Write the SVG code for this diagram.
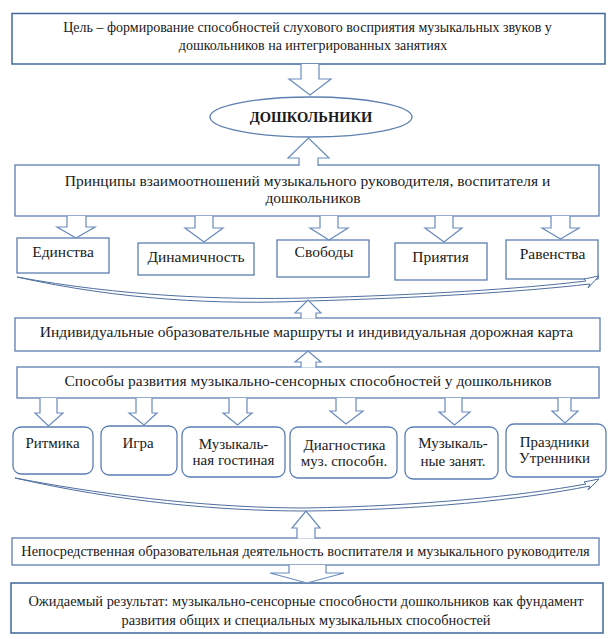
<svg xmlns="http://www.w3.org/2000/svg" width="613" height="639" viewBox="0 0 613 639" font-family="'Liberation Serif', 'Times New Roman', 'DejaVu Serif', serif">
<style>
.box{fill:#fff;stroke:#5d7fb0;stroke-width:1.3}
.top{fill:#fff;stroke:#41699a;stroke-width:1.5}
.rbox{fill:#fff;stroke:#5b7db3;stroke-width:1.3}
.arr{fill:#fff;stroke:#6a8bbd;stroke-width:1.2;stroke-linejoin:miter}
.brace{fill:#fff;stroke:#4e6f9f;stroke-width:1}
text{font-family:'Liberation Serif','Times New Roman','DejaVu Serif',serif;font-size:15px;fill:#1a1a1a;text-anchor:middle}
.s14{font-size:14px}
.s145{font-size:14.4px}
.s155{font-size:15.5px}
.b{font-weight:bold;font-size:14.5px}
</style>
<rect width="613" height="639" fill="#fff"/>
<g id="goal">
<rect class="top" x="12" y="13.5" width="593" height="50.5"/>
<text class="s14" x="307.5" y="32">Цель – формирование способностей слухового восприятия музыкальных звуков у</text>
<text class="s14" x="313" y="50">дошкольников на интегрированных занятиях</text>
</g>
<g id="children">
<ellipse class="box" cx="311" cy="117" rx="101" ry="20"/>
<text class="b" x="311" y="122">ДОШКОЛЬНИКИ</text>
</g>
<g id="principles">
<rect class="box" x="15" y="165" width="584" height="51"/>
<text class="s155" x="307.5" y="186">Принципы взаимоотношений музыкального руководителя, воспитателя и</text>
<text class="s155" x="313" y="203">дошкольников</text>
</g>
<g id="p1"><rect class="box" x="17" y="238" width="92" height="35"/><text class="s155" x="63" y="257">Единства</text></g>
<g id="p2"><rect class="box" x="138" y="243" width="116" height="32"/><text class="s155" x="196" y="262">Динамичность</text></g>
<g id="p3"><rect class="box" x="277" y="240" width="92" height="37"/><text class="s155" x="324" y="257">Свободы</text></g>
<g id="p4"><rect class="box" x="395" y="243" width="92" height="37"/><text class="s155" x="440.5" y="262">Приятия</text></g>
<g id="p5"><rect class="box" x="506" y="240" width="92" height="39"/><text class="s155" x="552.5" y="259">Равенства</text></g>
<g id="routes">
<rect class="box" x="15" y="318" width="585" height="33"/>
<text class="s155" x="306.5" y="337">Индивидуальные образовательные маршруты и индивидуальная дорожная карта</text>
</g>
<g id="methods">
<rect class="box" x="17" y="367" width="582" height="31"/>
<text class="s155" x="308" y="386">Способы развития музыкально-сенсорных способностей у дошкольников</text>
</g>
<g id="m1"><rect class="rbox" x="13" y="427" width="80" height="47" rx="8"/><text x="52.5" y="448">Ритмика</text></g>
<g id="m2"><rect class="rbox" x="101" y="426" width="76" height="49" rx="8"/><text x="138" y="448">Игра</text></g>
<g id="m3"><rect class="rbox" x="182" y="427" width="103" height="50" rx="8"/><text x="233.5" y="449">Музыкаль-</text><text x="233.5" y="465">ная гостиная</text></g>
<g id="m4"><rect class="rbox" x="290" y="427" width="107" height="51" rx="8"/><text x="344.5" y="450">Диагностика</text><text x="344" y="466">муз. способн.</text></g>
<g id="m5"><rect class="rbox" x="405" y="427" width="93" height="52" rx="8"/><text x="453" y="448">Музыкаль-</text><text x="453" y="466">ные занят.</text></g>
<g id="m6"><rect class="rbox" x="506" y="424" width="100" height="53" rx="8"/><text x="554.5" y="447">Праздники</text><text x="554.5" y="463">Утренники</text></g>
<g id="activity">
<rect class="box" x="12" y="538" width="587" height="27"/>
<text class="s145" x="305.5" y="556">Непосредственная образовательная деятельность воспитателя и музыкального руководителя</text>
</g>
<g id="result">
<rect class="top" x="11" y="583" width="592" height="50"/>
<text class="s145" x="306" y="606">Ожидаемый результат: музыкально-сенсорные способности дошкольников как фундамент</text>
<text class="s145" x="306" y="625">развития общих и специальных музыкальных способностей</text>
</g>
<g id="connectors">
<path class="arr" d="M301,64 L301,79 L289,79 L310,95 L331,79 L319,79 L319,64"/>
<path class="arr" d="M299,166 L299,158 L288,158 L308.5,138 L329,158 L318,158 L318,166"/>
<path class="arr" d="M67,216 L67,227 L57,227 L76,238 L95,227 L86,227 L86,216"/>
<path class="arr" d="M195,216 L195,228 L185,228 L204,242 L223,228 L213,228 L213,216"/>
<path class="arr" d="M320,216 L320,228 L310,228 L329,240 L348,228 L338,228 L338,216"/>
<path class="arr" d="M435,216 L435,228 L425,228 L444,242 L462,228 L453,228 L453,216"/>
<path class="arr" d="M551,216 L551,228 L542,228 L560.5,239 L579,228 L570,228 L570,216"/>
<path class="brace" d="M17,277 C120,300 220,305 308,301 C420,298 520,292 590,284 L588,288 L599,276 L584,279 L586,281 C520,289 420,295 308,298 C220,300 120,296 17,277 Z"/>
<path class="arr" d="M301,318.5 L301,313 L295,313 L308,300 L321,313 L316,313 L316,318.5"/>
<path class="arr" d="M301,367.5 L301,362 L295,362 L308,351 L321,362 L316,362 L316,367.5"/>
<path class="arr" d="M40,398 L40,413 L35,413 L48.5,426 L63,413 L57,413 L57,398"/>
<path class="arr" d="M136,398 L136,413 L129,413 L144,425 L157,413 L152,413 L152,398"/>
<path class="arr" d="M229,398 L229,413 L223,413 L237.5,425 L252,413 L247,413 L247,398"/>
<path class="arr" d="M336,398 L336,411 L330,411 L346,424 L363,411 L356,411 L356,398"/>
<path class="arr" d="M445,398 L445,412 L439,412 L454.5,425 L470,412 L462,412 L462,398"/>
<path class="arr" d="M558,398 L558,411 L552,411 L565,423 L578,411 L571,411 L571,398"/>
<path class="brace" d="M15,478 C120,502 220,511 306,511 C420,510 520,500 590,486 L588,490 L599,479 L584,482 L586,484 C520,496 420,506 306,508 C220,508 120,498 15,478 Z"/>
<path class="arr" d="M297,538.5 L297,528 L292,528 L306,511 L320,528 L315,528 L315,538.5"/>
<path class="arr" d="M289,565 L289,573 L270,573 L307,583 L344,573 L326,573 L326,565"/>
</g>
</svg>
